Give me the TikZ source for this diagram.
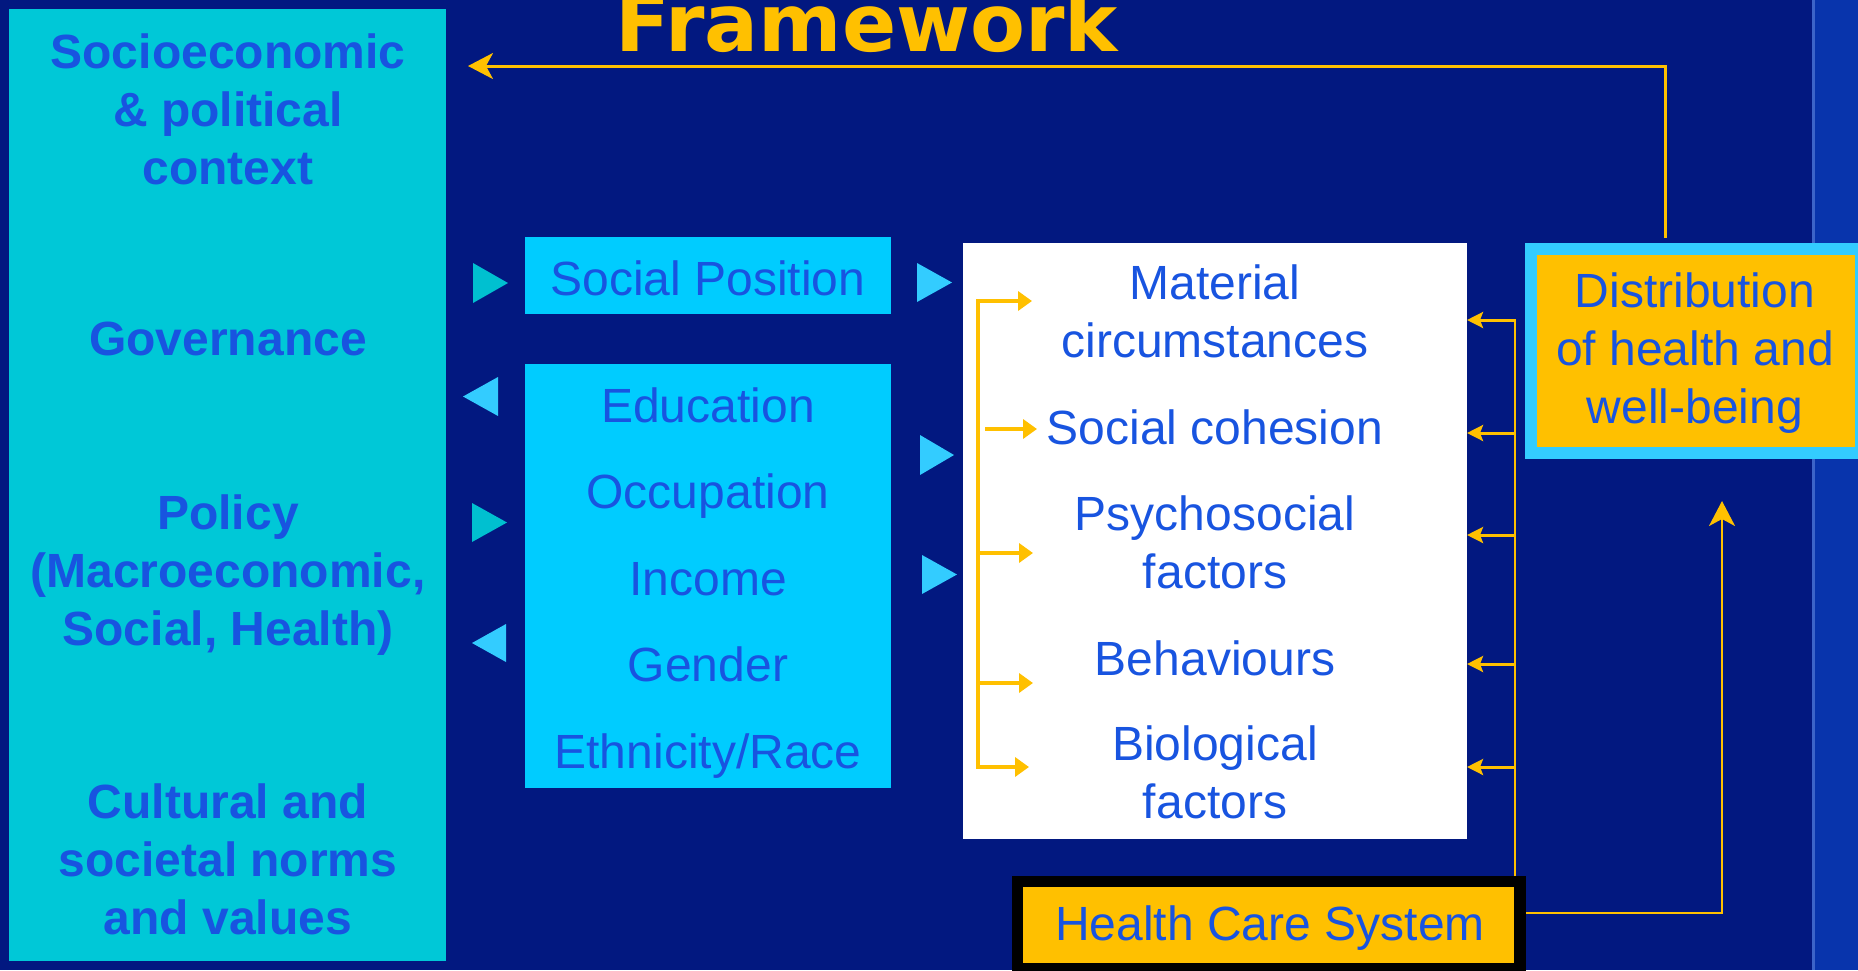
\documentclass[tikz,border=0pt]{standalone}
\usepackage{fontspec}
\setmainfont{Liberation Sans}
\newfontfamily\titlefont{DejaVu Sans}
\usetikzlibrary{arrows.meta,calc}
\definecolor{navy}{RGB}{2,24,128}
\definecolor{ctxcyan}{RGB}{0,200,215}
\definecolor{boxcyan}{RGB}{0,204,255}
\definecolor{lightcyan}{RGB}{51,204,255}
\definecolor{tealtri}{RGB}{0,192,208}
\definecolor{txtblue}{RGB}{24,84,224}
\definecolor{gold}{RGB}{255,192,0}
\definecolor{stripblue}{RGB}{8,52,172}
\definecolor{stripline}{RGB}{60,100,200}
\begin{document}
\begin{tikzpicture}[x=1pt,y=-1pt,
  box/.style={draw=none, inner sep=0pt, outer sep=0pt, anchor=north west},
  lbl/.style={text=txtblue, align=center, inner sep=0pt, font=\fontsize{48}{58}\selectfont},
  blbl/.style={text=txtblue, align=center, inner sep=0pt, font=\bfseries\fontsize{48}{58}\selectfont},
  goldarrow/.style={draw=gold, line width=4pt, -{Triangle[length=14pt,width=19pt]}},
  feedarrow/.style={draw=gold, line width=3pt, -{Stealth[length=16pt,width=16pt,inset=3pt]}},
  thinline/.style={draw=gold, line width=2pt},
  bigtip/.style={-{Stealth[length=25pt,width=26pt,inset=7pt]}}
]
% background
\fill[navy] (0,0) rectangle (1858,970);
\fill[stripblue] (1812,0) rectangle (1858,970);
\fill[stripline] (1812,0) rectangle (1815,970);
\useasboundingbox (0,0) rectangle (1858,970);

% title
\node[anchor=base, text=gold, inner sep=0pt, font=\titlefont\bfseries\fontsize{80}{80}\selectfont] (title) at (867,51) {Framework};

% left context box
\node[box, fill=ctxcyan, minimum width=437pt, minimum height=952pt] (ctx) at (9,9) {};
\node[blbl] (ctx1) at (228,109) {Socioeconomic\\\& political\\context};
\node[blbl] (gov) at (228,339) {Governance};
\node[blbl] (pol) at (228,575) {Policy\\(Macroeconomic,\\Social, Health)};
\node[blbl] (cul) at (228,859) {Cultural and\\societal norms\\and values};

% social position boxes
\node[box, fill=boxcyan, minimum width=366pt, minimum height=77pt] (sp) at (525,237) {};
\node[lbl] (sptxt) at (708,278) {Social Position};
\node[box, fill=boxcyan, minimum width=366pt, minimum height=424pt] (sf) at (525,364) {};
\node[lbl, font=\fontsize{48}{86.5}\selectfont] (sftxt) at (708,583) {Education\\Occupation\\Income\\Gender\\Ethnicity/Race};

% side triangles
\fill[tealtri] (473,263) -- (473,303) -- (508,283) -- cycle;
\fill[lightcyan] (498,377) -- (498,416) -- (463,396.5) -- cycle;
\fill[tealtri] (472,503) -- (472,542) -- (507,522.5) -- cycle;
\fill[lightcyan] (506,624) -- (506,662) -- (472,643) -- cycle;
\fill[lightcyan] (917,263) -- (917,302) -- (952,282.5) -- cycle;
\fill[lightcyan] (920,435) -- (920,475) -- (954,455) -- cycle;
\fill[lightcyan] (922,555) -- (922,594) -- (957,574.5) -- cycle;

% white intermediary box
\node[box, fill=white, minimum width=504pt, minimum height=596pt] (wb) at (963,243) {};
\node[lbl] (mat) at (1215,311) {Material\\circumstances};
\node[lbl] (coh) at (1215,427) {Social cohesion};
\node[lbl] (psy) at (1215,542) {Psychosocial\\factors};
\node[lbl] (beh) at (1215,658) {Behaviours};
\node[lbl] (bio) at (1215,772) {Biological\\factors};

% inner bracket arrows
\coordinate (b1) at (978,301);
\coordinate (b5) at (978,767);
\draw[gold, line width=4pt] (b1) -- (b5);
\draw[goldarrow] ($(b1)+(-2,0)$) -- (1032,301);
\draw[goldarrow] (985,429) -- (1037,429);
\draw[goldarrow] (978,553) -- (1033,553);
\draw[goldarrow] (978,683) -- (1033,683);
\draw[goldarrow] ($(b5)+(-2,0)$) -- (1029,767);

% distribution box
\node[box, fill=lightcyan, minimum width=345pt, minimum height=216pt] (distout) at (1525,243) {};
\node[box, fill=gold, minimum width=318pt, minimum height=192pt] (dist) at (1537,255) {};
\node[lbl] (disttxt) at (1695,353) {Distribution\\of health and\\well-being};

% health care system
\node[box, fill=black, minimum width=514pt, minimum height=110pt] (hcsout) at (1012,876) {};
\node[box, fill=gold, minimum width=491pt, minimum height=76pt] (hcs) at (1023,887) {};
\node[lbl] (hcstxt) at (1270,928) {Health Care System};

% health care feedback to intermediary factors
\coordinate (vtop) at (1515,320);
\draw[thinline] (hcsout.north -| vtop) -- (vtop);
\foreach \yy in {320,433,535,664,767}{
  \draw[feedarrow] (1516,\yy) -- (1516,\yy -| wb.east);
}

% health care to distribution
\coordinate (hcsr) at (1526,913);
\coordinate (distbelow) at (1722,501);
\draw[thinline, line width=2.5pt, bigtip] (hcsr) -| (distbelow);

% distribution back to context
\coordinate (topstart) at (1665,238);
\coordinate (topend) at (468,66);
\draw[thinline, line width=3pt, bigtip] (topstart) |- (topend);
\end{tikzpicture}
\end{document}
